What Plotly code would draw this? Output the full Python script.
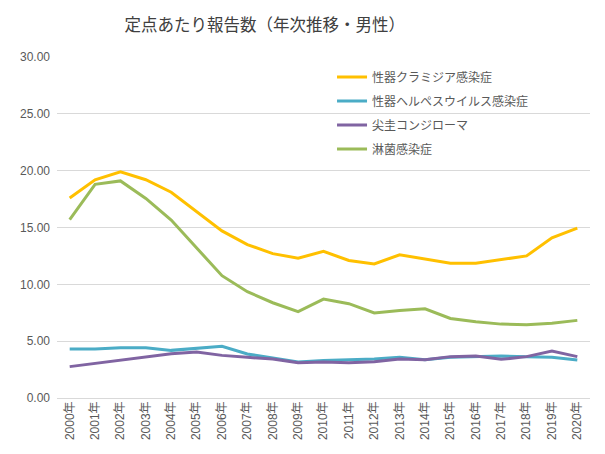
import plotly.graph_objects as go

years = [f"{y}年" for y in range(2000, 2021)]

chlamydia = [17.6, 19.2, 19.9, 19.2, 18.1, 16.4, 14.7, 13.5, 12.7, 12.3, 12.9,
             12.1, 11.8, 12.6, 12.2, 11.85, 11.85, 12.2, 12.5, 14.1, 14.95]
herpes = [4.3, 4.3, 4.42, 4.42, 4.19, 4.4, 4.55, 3.87, 3.49, 3.17, 3.31,
          3.37, 3.43, 3.58, 3.37, 3.58, 3.64, 3.69, 3.64, 3.58, 3.34]
condyloma = [2.76, 3.05, 3.28, 3.58, 3.9, 4.05, 3.75, 3.58, 3.43, 3.1, 3.16,
             3.1, 3.2, 3.43, 3.37, 3.64, 3.69, 3.4, 3.64, 4.13, 3.64]
gonorrhea = [15.7, 18.8, 19.1, 17.56, 15.65, 13.25, 10.76, 9.35, 8.38, 7.6, 8.7,
             8.3, 7.48, 7.7, 7.85, 7.0, 6.7, 6.5, 6.45, 6.57, 6.83]

names = ["性器クラミジア感染症", "性器ヘルペスウイルス感染症", "尖圭コンジローマ", "淋菌感染症"]
series = [chlamydia, herpes, condyloma, gonorrhea]
colors = ["#FFC000", "#4BACC6", "#8064A2", "#9BBB59"]

FONT = "Liberation Sans, Noto Sans CJK JP, sans-serif"

fig = go.Figure()
for i, (n, s, c) in enumerate(zip(names, series, colors)):
    fig.add_trace(go.Scatter(x=years, y=s, name=n, mode="lines",
                             line=dict(color=c, width=3),
                             legendgroup=f"g{i}"))

fig.update_layout(
    width=597, height=446,
    margin=dict(l=45, r=15, t=49, b=56),
    paper_bgcolor="white", plot_bgcolor="white",
    font=dict(family=FONT, color="#595959", size=12),
    title=dict(text="定点あたり報告数（年次推移・男性）",
               x=0.43, xanchor="center", y=0.962, yanchor="middle",
               font=dict(size=16.5, color="#404040", family="Noto Sans CJK JP")),
    showlegend=True,
    legend=dict(x=0.516, y=0.984, xanchor="left", yanchor="top",
                bgcolor="rgba(0,0,0,0)", tracegroupgap=5,
                font=dict(size=12, color="#595959", family="Noto Sans CJK JP")),
    xaxis=dict(type="category", range=[-0.5, 20.5], tickangle=-90,
               showgrid=False, showline=False, ticks="",
               tickfont=dict(size=12, color="#595959")),
    yaxis=dict(range=[0, 30], dtick=5, tickformat=".2f",
               showgrid=True, gridcolor="#d9d9d9", gridwidth=1,
               zeroline=True, zerolinecolor="#d9d9d9", zerolinewidth=1,
               showline=False, ticks="", ticklabelstandoff=6,
               tickfont=dict(size=12, color="#595959")),
)

fig.write_html("out.html")
